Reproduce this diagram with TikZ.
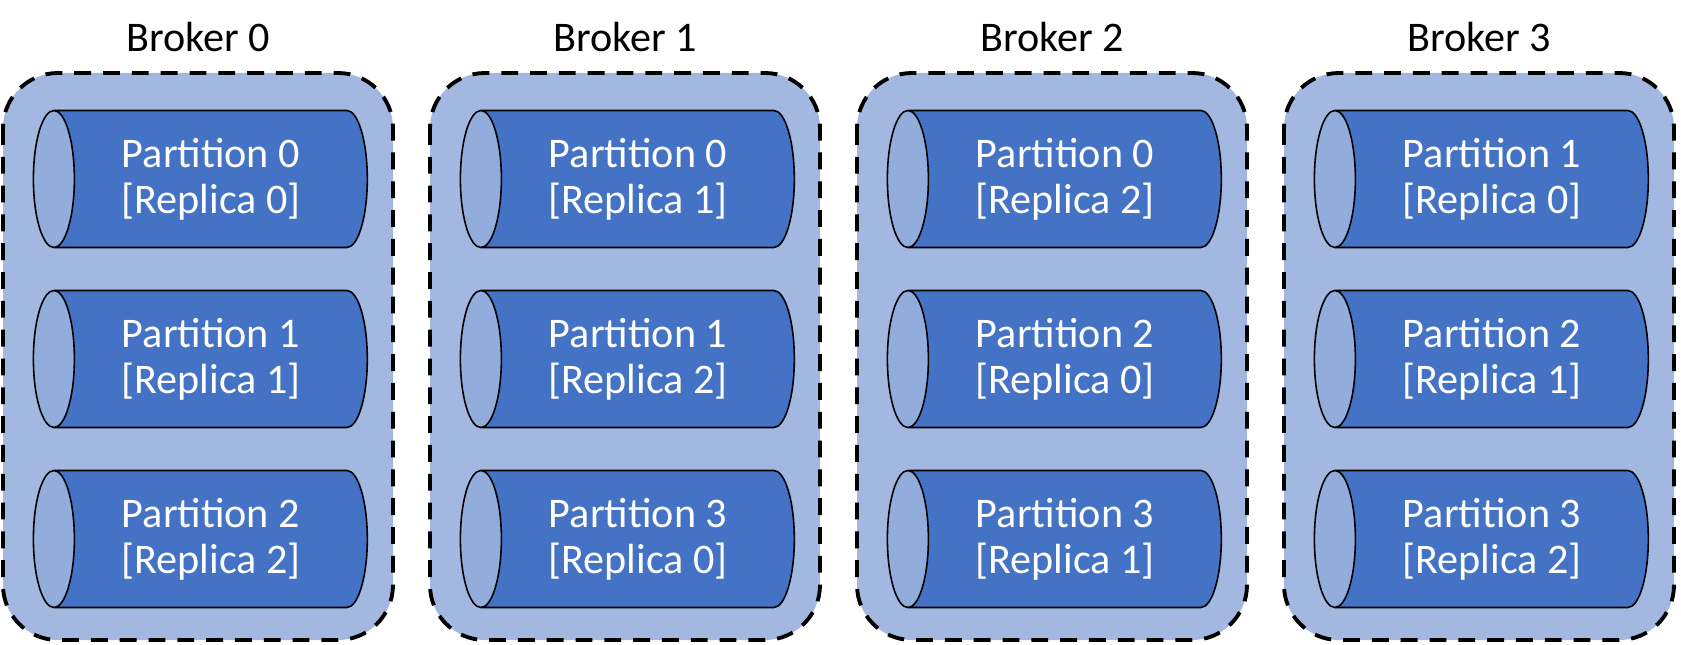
\documentclass[tikz,border=0pt]{standalone}
\usepackage{fontspec}
\setmainfont{Carlito}
\usetikzlibrary{shapes.geometric}

\definecolor{brokerfill}{HTML}{A2B8E0}
\definecolor{partbody}{HTML}{4472C4}
\definecolor{partend}{HTML}{92ACDC}

\tikzset{
  brokerbox/.style={draw=black, fill=brokerfill, line width=2.2pt,
    dash pattern=on 9.6pt off 6.8pt, rounded corners=1.1cm},
  partcyl/.style={cylinder, shape border rotate=180, aspect=0.5,
    draw=black, line width=0.9pt, cylinder uses custom fill,
    cylinder body fill=partbody, cylinder end fill=partend,
    minimum height=6.68cm, minimum width=2.74cm, inner sep=0pt,
    text=white, align=center, font=\fontsize{24}{26.2}\selectfont},
  brokertitle/.style={font=\fontsize{24}{26.2}\selectfont, text=black}
}

\begin{document}
\begin{tikzpicture}[x=0.02cm, y=-0.02cm]
\useasboundingbox (0,0) rectangle (1681,645);
\foreach \b/\pa/\ra/\pb/\rb/\pc/\rc in {0/0/0/1/1/2/2, 1/0/1/1/2/3/0, 2/0/2/2/0/3/1, 3/1/0/2/1/3/2} {
  \draw[brokerbox] (3+427*\b,73) rectangle (393+427*\b,640);
  \node[brokertitle] (broker\b) at (198+427*\b,37) {Broker \b};
  \node[partcyl] (part\b a) at (211+427*\b,179) {Partition \pa\\{[}Replica \ra{]}};
  \node[partcyl] (part\b b) at (211+427*\b,359) {Partition \pb\\{[}Replica \rb{]}};
  \node[partcyl] (part\b c) at (211+427*\b,539) {Partition \pc\\{[}Replica \rc{]}};
}
\end{tikzpicture}
\end{document}
